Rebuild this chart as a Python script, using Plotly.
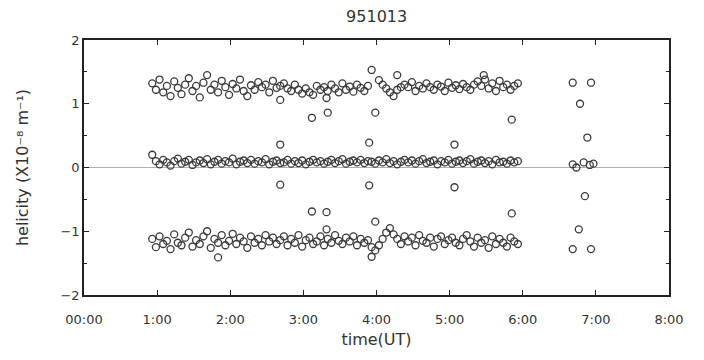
import plotly.graph_objects as go

# time in minutes after 00:00 UT
times = [
    56, 59, 62, 65, 68, 71, 74, 77, 80, 83,
    86, 89, 92, 95, 98, 101, 104, 107, 110, 113,
    116, 119, 122, 125, 128, 131, 134, 137, 140, 143,
    146, 149, 152, 155, 158, 161, 164, 167, 170, 173,
    176, 179, 182, 185, 188, 191, 194, 197, 200, 203,
    206, 209, 212, 215, 218, 221, 224, 227, 230, 233,
    236, 239, 242, 245, 248, 251, 254, 257, 260, 263,
    266, 269, 272, 275, 278, 281, 284, 287, 290, 293,
    296, 299, 302, 305, 308, 311, 314, 317, 320, 323,
    326, 329, 332, 335, 338, 341, 344, 347, 350, 353,
    356,
]

upper = [
    1.32, 1.22, 1.38, 1.18, 1.28, 1.12, 1.35, 1.25, 1.15, 1.30,
    1.40, 1.20, 1.28, 1.10, 1.33, 1.45, 1.22, 1.30, 1.18, 1.36,
    1.26, 1.14, 1.31, 1.24, 1.38, 1.20, 1.12, 1.29, 1.22, 1.34,
    1.26, 1.30, 1.18, 1.36, 1.25, 1.28, 1.32, 1.24, 1.20, 1.30,
    1.22, 1.16, 1.24, 1.18, 1.14, 1.28, 1.22, 1.26, 1.20, 1.30,
    1.24, 1.18, 1.32, 1.22, 1.27, 1.19, 1.30, 1.25, 1.20, 1.28,
    None, None, 1.37, 1.30, 1.24, 1.18, 1.12, 1.22, 1.26, 1.30,
    1.26, 1.34, 1.20, 1.28, 1.24, 1.32, 1.26, 1.22, 1.30, 1.27,
    1.20, 1.33, 1.25, 1.29, 1.23, 1.31, 1.26, 1.22, 1.30, 1.35,
    1.28, 1.38, 1.24, 1.32, 1.20, 1.36, 1.26, 1.30, 1.22, 1.28,
    1.32,
]

middle = [
    0.20, 0.10, 0.05, 0.12, 0.08, 0.03, 0.10, 0.14, 0.06, 0.09,
    0.12, 0.04, 0.08, 0.11, 0.07, 0.13, 0.05, 0.09, 0.12, 0.06,
    0.10, 0.08, 0.14, 0.05, 0.09, 0.11, 0.07, 0.12, 0.06, 0.10,
    0.08, 0.13, 0.05, 0.09, 0.11, 0.07, 0.08, 0.12, 0.06, 0.10,
    0.07, 0.11, 0.05, 0.09, 0.12, 0.08, 0.10, 0.06, 0.09, 0.12,
    0.07, 0.10, 0.13, 0.06, 0.09, 0.11, 0.08, 0.12, 0.07, 0.10,
    0.09, 0.06, 0.11, 0.08, 0.13, 0.07, 0.10, 0.05, 0.09, 0.12,
    0.08, 0.11, 0.06, 0.10, 0.13, 0.07, 0.09, 0.11, 0.05, 0.10,
    0.08, 0.12, 0.06, 0.09, 0.11, 0.07, 0.10, 0.13, 0.06, 0.09,
    0.11, 0.07, 0.10, 0.05, 0.12, 0.08, 0.09, 0.06, 0.11, 0.08,
    0.10,
]

lower = [
    -1.12, -1.25, -1.08, -1.20, -1.15, -1.28, -1.05, -1.18, -1.22, -1.10,
    -1.02, -1.24, -1.14, -1.20, -1.08, -1.00, -1.26, -1.12, -1.18, -1.06,
    -1.22, -1.15, -1.04, -1.20, -1.10, -1.16, -1.26, -1.08, -1.18, -1.12,
    -1.22, -1.06, -1.16, -1.10, -1.20, -1.14, -1.08, -1.22, -1.12, -1.18,
    -1.06, -1.24, -1.14, -1.10, -1.20, -1.16, -1.08, -1.22, -1.12, -1.18,
    -1.06, -1.15, -1.20, -1.10, -1.16, -1.08, -1.22, -1.12, -1.18, -1.14,
    -1.25, -1.30, -1.22, -1.12, -1.02, -0.95, -1.05, -1.12, -1.20, -1.08,
    -1.16, -1.10, -1.22, -1.06, -1.15, -1.18, -1.10, -1.24, -1.12, -1.08,
    -1.20, -1.14, -1.10, -1.18, -1.22, -1.12, -1.06, -1.16, -1.24, -1.10,
    -1.18, -1.14, -1.26, -1.08, -1.20, -1.12, -1.18, -1.24, -1.10, -1.16,
    -1.20,
]

# isolated points and the late cluster near 6:40-6:57
extra_t = [161, 187, 199, 200, 236, 239, 257, 328, 351,
           161, 161, 234, 234, 304, 304,
           110, 187, 199, 199, 236, 239, 351,
           401, 416, 407, 413, 401, 404, 410, 415, 418, 411, 406, 401, 416]
extra_v = [1.06, 0.78, 1.09, 0.86, 1.53, 0.86, 1.45, 1.45, 0.75,
           0.36, -0.27, 0.39, -0.28, 0.36, -0.31,
           -1.41, -0.69, -0.70, -0.97, -1.40, -0.85, -0.72,
           1.33, 1.33, 1.00, 0.47, 0.05, 0.00, 0.08, 0.04, 0.06, -0.45, -0.97, -1.28, -1.28]

tick_vals = [0, 60, 120, 180, 240, 300, 360, 420, 480]
tick_text = ["00:00", "1:00", "2:00", "3:00", "4:00", "5:00", "6:00", "7:00", "8:00"]
y_vals = [-2, -1, 0, 1, 2]
y_text = ["\u22122", "\u22121", "0", "1", "2"]

marker = dict(symbol="circle-open", size=7, color="#3a3a3a", line=dict(width=1.3))

fig = go.Figure()
for vals in (upper, middle, lower):
    fig.add_trace(go.Scatter(x=times, y=vals, mode="markers", marker=marker,
                             showlegend=False, hoverinfo="skip"))
fig.add_trace(go.Scatter(x=extra_t, y=extra_v, mode="markers", marker=marker,
                         showlegend=False, hoverinfo="skip"))

font = dict(family="DejaVu Sans, Liberation Sans, sans-serif", size=13, color="#333")
fig.update_layout(
    width=704, height=360,
    margin=dict(l=84, r=35, t=40, b=65),
    paper_bgcolor="white", plot_bgcolor="white",
    font=font,
    title=dict(text="951013", x=0.535, xanchor="center", y=0.955, yanchor="middle",
               font=dict(size=16, color="#333")),
)
fig.update_xaxes(
    range=[0, 480], tickvals=tick_vals, ticktext=tick_text,
    showgrid=False, zeroline=False,
    showline=True, linecolor="#222", linewidth=1.5, mirror="ticks",
    ticks="inside", ticklen=5, tickcolor="#222",
    ticklabelstandoff=12,
    title=dict(text="time(UT)", standoff=7),
)
fig.update_yaxes(
    range=[-2, 2], tickvals=y_vals, ticktext=y_text,
    showgrid=False, zeroline=True, zerolinecolor="#b0b0b0", zerolinewidth=1,
    showline=True, linecolor="#222", linewidth=1.5, mirror="ticks",
    ticks="inside", ticklen=5, tickcolor="#222",
    minor=dict(dtick=0.5, ticks="inside", ticklen=3, tickcolor="#222"),
    title=dict(text="helicity (X10\u207b\u2078 m\u207b\u00b9)", standoff=28),
)

fig.write_html("out.html")
